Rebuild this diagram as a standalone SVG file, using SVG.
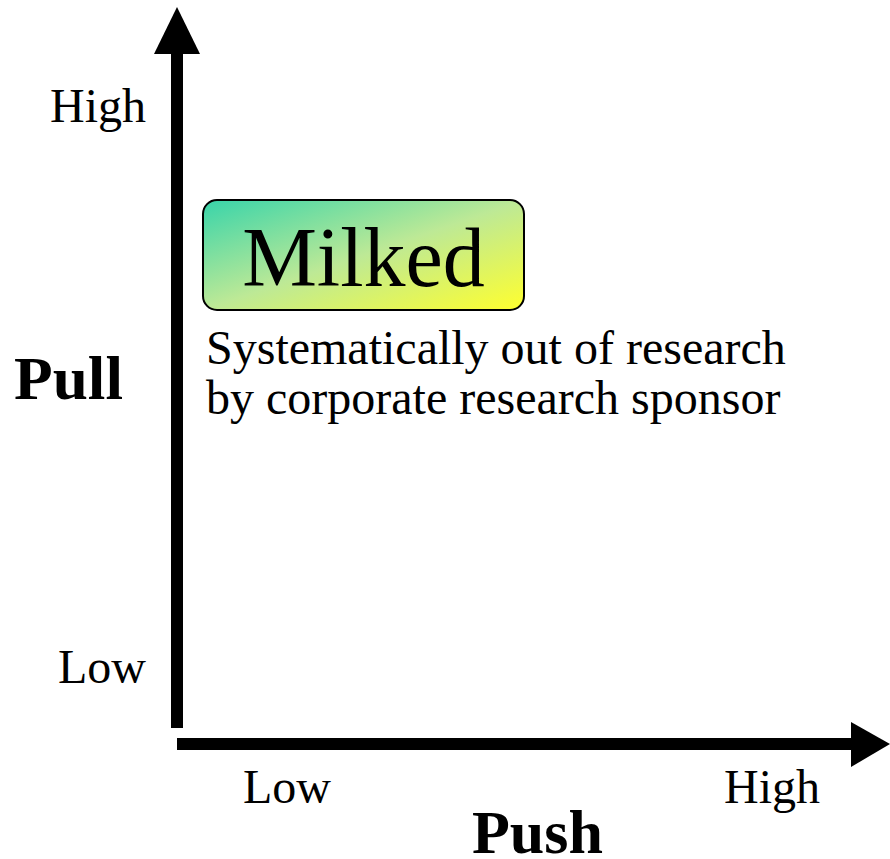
<svg xmlns="http://www.w3.org/2000/svg" width="890" height="859" viewBox="0 0 890 859">
<style>
.lbl{font-family:"Liberation Serif","Times New Roman",serif;font-size:48px;fill:#000}
.ax{font-family:"Liberation Serif","Times New Roman",serif;font-size:62px;font-weight:bold;fill:#000}
.big{font-family:"Liberation Serif","Times New Roman",serif;font-size:84px;fill:#000}
</style>
<defs>
<linearGradient id="g" x1="0" y1="0" x2="1" y2="1">
<stop offset="0" stop-color="#38d4aa"/>
<stop offset="0.5" stop-color="#bde996"/>
<stop offset="1" stop-color="#ffff2e"/>
</linearGradient>
</defs>
<rect width="890" height="859" fill="#fff"/>
<g id="connectors">
<rect x="171" y="50" width="12" height="678" fill="#000"/>
<polygon points="177,7 154,54 200,54" fill="#000"/>
<rect x="177" y="738" width="678" height="12" fill="#000"/>
<polygon points="890,744 851,722 851,767" fill="#000"/>
</g>
<g id="milked">
<rect x="203" y="200" width="321" height="110" rx="14" ry="14" fill="url(#g)" stroke="#000" stroke-width="2"/>
<text class="big" x="363.5" y="286" text-anchor="middle">Milked</text>
</g>
<g id="desc">
<text class="lbl" x="206" y="364">Systematically out of research</text>
<text class="lbl" x="206" y="414">by corporate research sponsor</text>
</g>
<g id="y-axis-labels">
<text class="lbl" x="146" y="122" text-anchor="end">High</text>
<text class="lbl" x="146" y="683" text-anchor="end">Low</text>
<text class="ax" x="14" y="399" textLength="109" lengthAdjust="spacingAndGlyphs">Pull</text>
</g>
<g id="x-axis-labels">
<text class="lbl" x="243" y="803">Low</text>
<text class="lbl" x="724" y="803">High</text>
<text class="ax" x="472" y="853">Push</text>
</g>
</svg>
